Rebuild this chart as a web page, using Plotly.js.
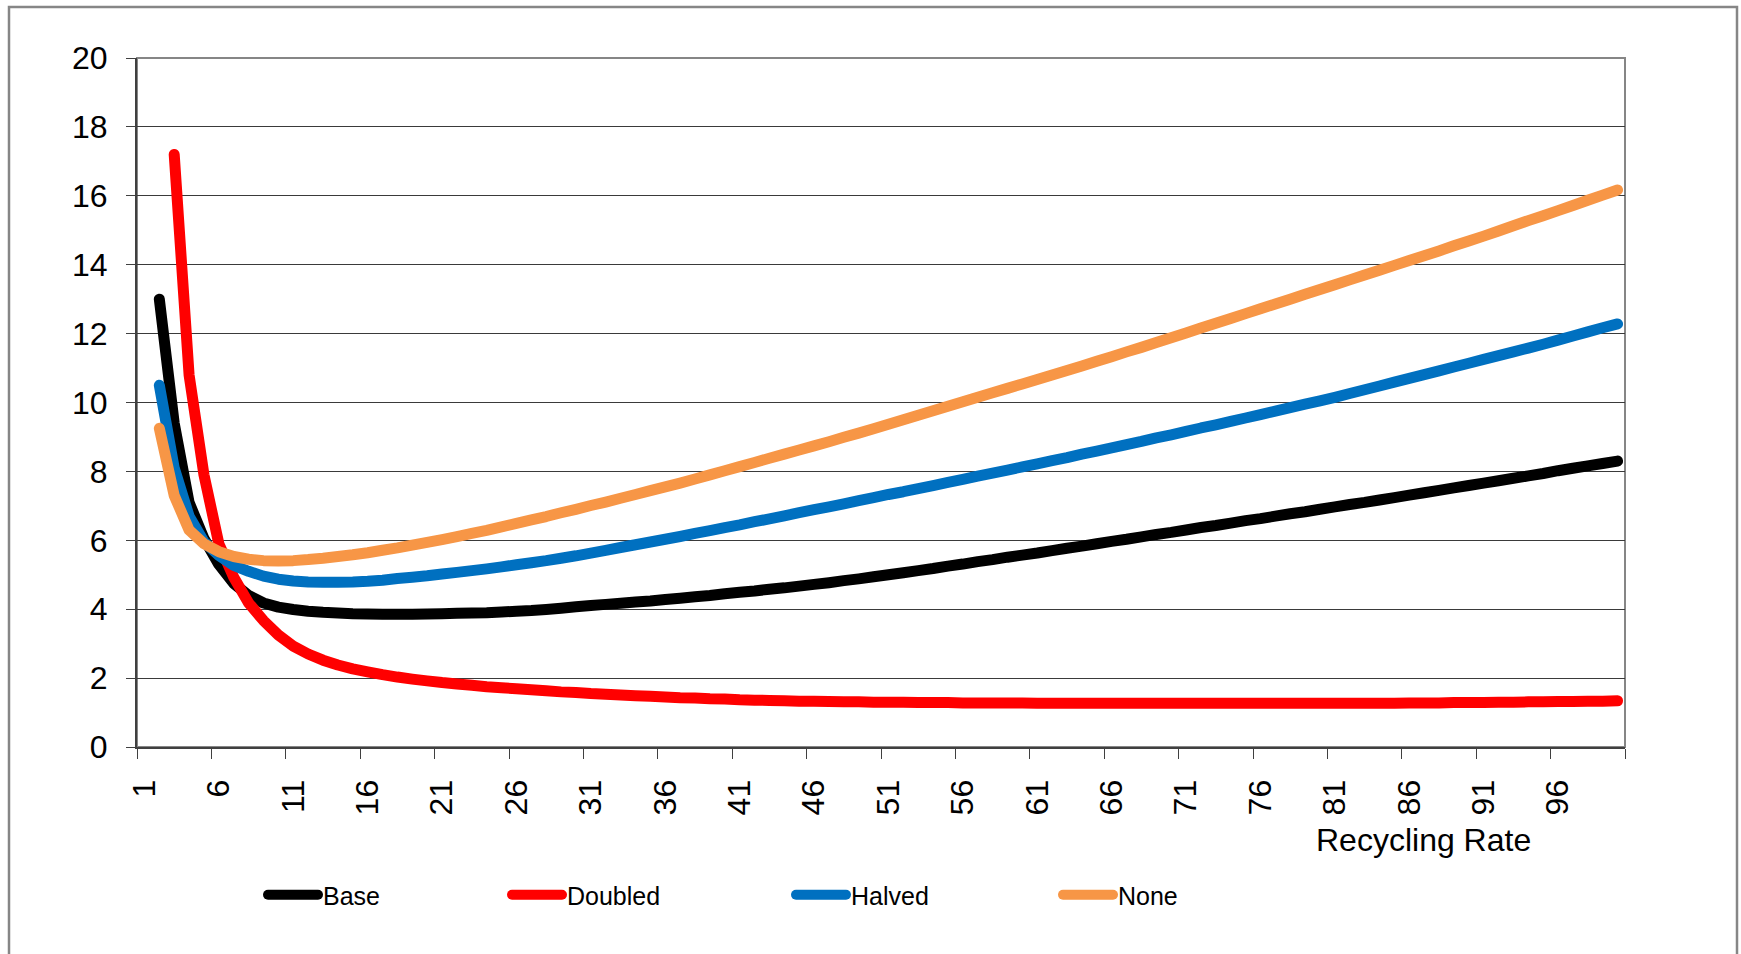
<!DOCTYPE html>
<html>
<head>
<meta charset="utf-8">
<script src="https://cdn.plot.ly/plotly-3.0.1.min.js"></script>
<style>
  html, body { margin: 0; padding: 0; background: #fff; }
  #chart { width: 1741px; height: 954px; }
  .scatterlayer path.js-line { stroke-linecap: round; stroke-linejoin: round; }
  g.legendlines path { stroke-linecap: round; }
</style>
</head>
<body>
<div id="chart"></div>
<script>
// Recycling rate categories (1..100)
const recyclingRate = [1,2,3,4,5,6,7,8,9,10,11,12,13,14,15,16,17,18,19,20,
  21,22,23,24,25,26,27,28,29,30,31,32,33,34,35,36,37,38,39,40,
  41,42,43,44,45,46,47,48,49,50,51,52,53,54,55,56,57,58,59,60,
  61,62,63,64,65,66,67,68,69,70,71,72,73,74,75,76,77,78,79,80,
  81,82,83,84,85,86,87,88,89,90,91,92,93,94,95,96,97,98,99,100];

const seriesNames = ['Base', 'Doubled', 'Halved', 'None'];

const base = [null,13.0,9.4,7.1,6.05,5.3,4.75,4.4,4.18,4.06,
  3.99,3.94,3.91,3.89,3.87,3.86,3.85,3.85,3.85,3.86,
  3.87,3.88,3.89,3.9,3.92,3.94,3.96,3.99,4.03,4.07,
  4.11,4.14,4.17,4.21,4.24,4.28,4.32,4.36,4.4,4.45,
  4.49,4.53,4.58,4.62,4.67,4.72,4.77,4.83,4.88,4.94,
  5.0,5.06,5.12,5.18,5.25,5.31,5.38,5.44,5.51,5.57,
  5.63,5.7,5.77,5.83,5.9,5.97,6.03,6.1,6.17,6.23,
  6.3,6.37,6.43,6.5,6.57,6.63,6.7,6.77,6.83,6.9,
  6.97,7.04,7.1,7.17,7.24,7.31,7.38,7.45,7.52,7.59,
  7.66,7.73,7.8,7.87,7.94,8.02,8.09,8.16,8.23,8.3];

const doubled = [null,null,17.2,10.8,7.9,5.9,4.93,4.18,3.67,3.25,
  2.93,2.7,2.52,2.38,2.27,2.18,2.1,2.03,1.97,1.92,
  1.87,1.83,1.79,1.75,1.72,1.69,1.66,1.63,1.6,1.58,
  1.55,1.53,1.51,1.49,1.47,1.45,1.43,1.42,1.4,1.39,
  1.37,1.36,1.35,1.34,1.33,1.33,1.32,1.31,1.31,1.3,
  1.3,1.3,1.29,1.29,1.29,1.28,1.28,1.28,1.28,1.28,
  1.27,1.27,1.27,1.27,1.27,1.27,1.27,1.27,1.27,1.27,
  1.27,1.27,1.27,1.27,1.27,1.27,1.27,1.27,1.27,1.27,
  1.27,1.27,1.27,1.27,1.27,1.28,1.28,1.28,1.29,1.29,
  1.29,1.3,1.3,1.31,1.31,1.32,1.32,1.33,1.33,1.34];

const halved = [null,10.5,8.1,6.7,5.96,5.56,5.27,5.1,4.96,4.87,
  4.82,4.79,4.78,4.78,4.79,4.81,4.84,4.89,4.93,4.97,
  5.02,5.07,5.12,5.17,5.23,5.29,5.35,5.41,5.48,5.55,
  5.63,5.71,5.79,5.87,5.95,6.03,6.11,6.2,6.28,6.37,
  6.45,6.54,6.62,6.71,6.8,6.89,6.97,7.06,7.15,7.24,
  7.33,7.41,7.5,7.59,7.68,7.77,7.86,7.95,8.04,8.13,
  8.22,8.31,8.4,8.5,8.59,8.68,8.78,8.87,8.97,9.06,
  9.16,9.26,9.35,9.45,9.55,9.65,9.75,9.85,9.95,10.05,
  10.15,10.26,10.37,10.48,10.59,10.7,10.81,10.92,11.03,11.14,
  11.25,11.36,11.47,11.58,11.69,11.81,11.93,12.05,12.17,12.28];

const none = [null,9.25,7.3,6.3,5.9,5.67,5.53,5.45,5.41,5.4,
  5.41,5.44,5.48,5.53,5.58,5.64,5.71,5.78,5.86,5.94,
  6.02,6.11,6.2,6.29,6.39,6.49,6.59,6.69,6.8,6.9,
  7.01,7.11,7.22,7.33,7.44,7.55,7.66,7.78,7.9,8.02,
  8.14,8.26,8.38,8.5,8.62,8.74,8.86,8.99,9.11,9.24,
  9.37,9.5,9.63,9.76,9.89,10.02,10.15,10.28,10.41,10.54,
  10.67,10.8,10.93,11.06,11.2,11.33,11.47,11.6,11.74,11.88,
  12.02,12.16,12.3,12.44,12.58,12.72,12.86,13.0,13.14,13.28,
  13.42,13.56,13.7,13.84,13.98,14.12,14.26,14.4,14.55,14.69,
  14.83,14.98,15.13,15.28,15.42,15.57,15.72,15.87,16.02,16.17];

const xTickLabels = ['1','6','11','16','21','26','31','36','41','46',
  '51','56','61','66','71','76','81','86','91','96'];
const yTickValues = [0,2,4,6,8,10,12,14,16,18,20];
const xAxisTitle = 'Recycling Rate';

// ---- styling ----
const FONT = 'Liberation Sans, Arial, Helvetica, sans-serif';
const colors = ['#000000', '#FF0000', '#0070C0', '#F79646'];
const legendIds = ['legend', 'legend2', 'legend3', 'legend4'];
const legendTextX = [325, 569, 853, 1120];   // px where legend label text starts
const LEGEND_ITEM_W = 50;
const W = 1741, H = 954;
const L = 137, R = 116, T = 58, B = 207;
const PW = W - L - R, PH = H - T - B;

const seriesData = [base, doubled, halved, none];
const traces = seriesData.map((ys, k) => ({
  type: 'scatter',
  mode: 'lines',
  x: recyclingRate,
  y: ys,
  name: seriesNames[k],
  legend: legendIds[k],
  line: { color: colors[k], width: 11, shape: 'linear', simplify: false },
  connectgaps: false,
  hoverinfo: 'x+y+name'
}));

const tickLabelPositions = xTickLabels.map(Number);
const boundaryTicks = tickLabelPositions.map(v => v - 0.5).concat([recyclingRate.length + 0.5]);
const xRange = [0.5, recyclingRate.length + 0.5];

const layout = {
  width: W, height: H,
  paper_bgcolor: '#ffffff',
  plot_bgcolor: '#ffffff',
  margin: { l: L, r: R, t: T, b: B, pad: 0 },
  font: { family: FONT, size: 32, color: '#000' },
  xaxis: {
    range: xRange,
    tickmode: 'array',
    tickvals: tickLabelPositions,
    ticktext: xTickLabels,
    tickangle: -90,
    ticks: '', ticklen: 0,
    ticklabelstandoff: 18,
    tickfont: { family: FONT, size: 32, color: '#000' },
    minor: {
      tickmode: 'array',
      tickvals: boundaryTicks,
      ticks: 'outside', ticklen: 10, tickwidth: 1, tickcolor: '#404040',
      showgrid: false
    },
    showgrid: false, zeroline: false,
    showline: true, linecolor: '#404040', linewidth: 2,
    fixedrange: true
  },
  yaxis: {
    range: [0, 20],
    tickmode: 'array',
    tickvals: yTickValues,
    ticks: 'outside', ticklen: 9, tickwidth: 1, tickcolor: '#404040',
    ticklabelstandoff: 12,
    tickfont: { family: FONT, size: 32, color: '#000' },
    showgrid: true, gridcolor: '#3a3a3a', gridwidth: 1,
    zeroline: false,
    showline: true, linecolor: '#404040', linewidth: 2,
    fixedrange: true
  },
  showlegend: true,
  shapes: [
    // plot-area border (top / right)
    { type: 'rect', xref: 'paper', yref: 'paper', x0: 0, x1: 1, y0: 0, y1: 1,
      line: { color: '#868686', width: 2 }, layer: 'below' },
    // chart-area frame
    { type: 'rect', xref: 'paper', yref: 'paper',
      x0: (9 - L) / PW, x1: (1737 - L) / PW,
      y0: (T + PH - 1000) / PH, y1: (T + PH - 7) / PH,
      line: { color: '#868686', width: 2.5 }, layer: 'below' }
  ],
  annotations: [
    { text: xAxisTitle, xref: 'paper', yref: 'paper',
      x: (1423 - L) / PW, y: (T + PH - 840) / PH,
      xanchor: 'center', yanchor: 'middle', showarrow: false,
      font: { family: FONT, size: 32, color: '#000' } }
  ]
};

legendIds.forEach((id, k) => {
  layout[id] = {
    xref: 'container', yref: 'container',
    x: (legendTextX[k] - 42 - (LEGEND_ITEM_W - 30)) / W, xanchor: 'left',
    y: 1 - 895 / H, yanchor: 'middle',
    orientation: 'h',
    itemwidth: LEGEND_ITEM_W,
    bgcolor: 'rgba(0,0,0,0)',
    borderwidth: 0,
    font: { family: FONT, size: 25, color: '#000' }
  };
});

Plotly.newPlot('chart', traces, layout, { displayModeBar: false, staticPlot: true });
</script>
</body>
</html>
